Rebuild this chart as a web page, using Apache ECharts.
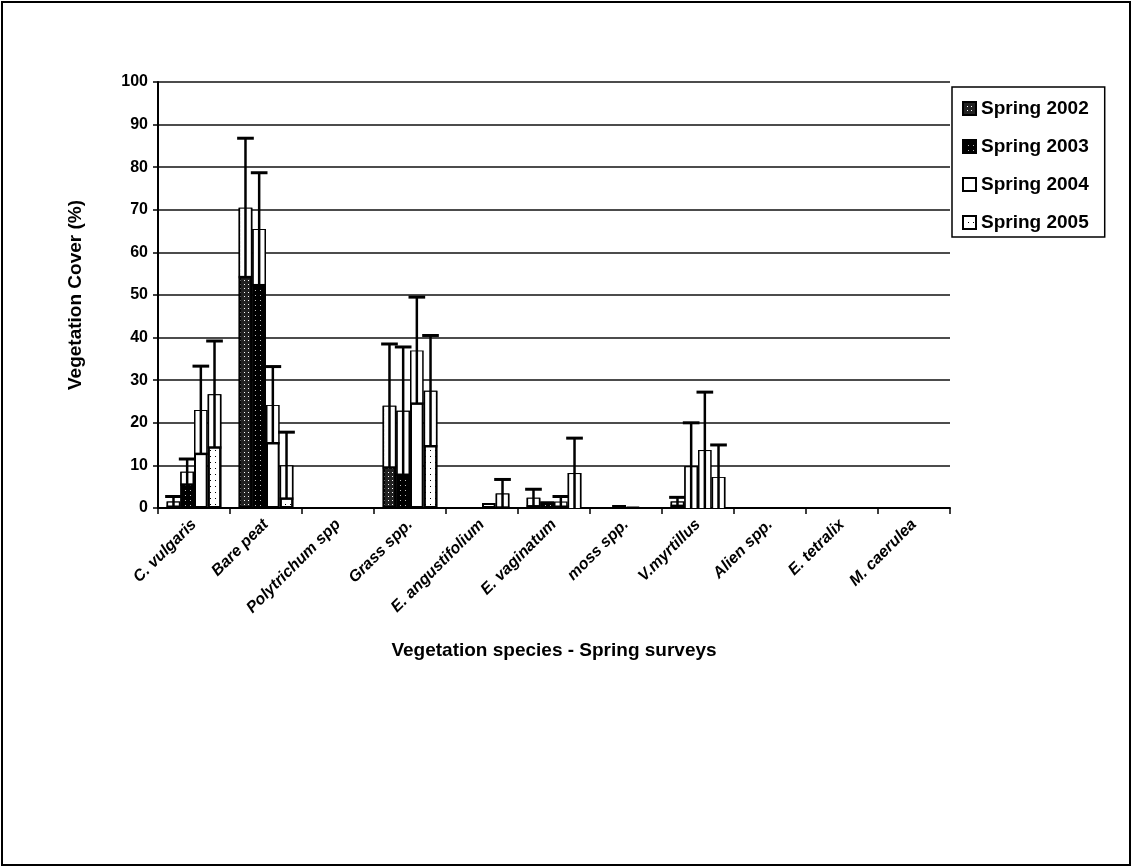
<!DOCTYPE html>
<html>
<head>
<meta charset="utf-8">
<script src="https://cdn.jsdelivr.net/npm/echarts@6/dist/echarts.min.js"></script>
<style>
html,body{margin:0;padding:0;background:#fff;}
#chart{width:1133px;height:868px;}
</style>
</head>
<body>
<div id="chart"></div>
<script>
// ---- data ----
var categories = ['C. vulgaris','Bare peat','Polytrichum spp','Grass spp.','E. angustifolium','E. vaginatum','moss spp.','V.myrtillus','Alien spp.','E. tetralix','M. caerulea'];
var seriesNames = ['Spring 2002','Spring 2003','Spring 2004','Spring 2005'];
var spring2002 = [1.5, 70.5, 0, 24.0, 0, 2.4, 0, 1.5, 0, 0, 0];
var spring2003 = [8.5, 65.5, 0, 22.8, 0, 1.5, 0.7, 9.8, 0, 0, 0];
var spring2004 = [23.0, 24.2, 0, 37.0, 1.2, 1.5, 0.2, 13.6, 0, 0, 0];
var spring2005 = [26.7, 10.0, 0, 27.5, 3.4, 8.2, 0, 7.3, 0, 0, 0];
var sd2002 = [1.2, 16.3, 0, 14.5, 0, 2.0, 0, 1.0, 0, 0, 0];
var sd2003 = [3.0, 13.2, 0, 15.0, 0, 0, 0, 10.2, 0, 0, 0];
var sd2004 = [10.3, 9.0, 0, 12.5, 0, 1.2, 0, 13.6, 0, 0, 0];
var sd2005 = [12.5, 7.8, 0, 13.0, 3.3, 8.2, 0, 7.5, 0, 0, 0];
var yTicks = {min: 0, max: 100, interval: 10};

var values = [spring2002, spring2003, spring2004, spring2005];
var sds = [sd2002, sd2003, sd2004, sd2005];

var FONT = "'Liberation Sans', Arial, sans-serif";
var CAT_GAP = 0.24;

var styles = [
  {color: '#222', decal: {symbol: 'rect', symbolSize: 1, dashArrayX: [1, 3], dashArrayY: [1, 3], color: '#fff'}},
  {color: '#000', decal: {symbol: 'rect', symbolSize: 1, dashArrayX: [1, 4], dashArrayY: [1, 4], color: '#bbb'}},
  {color: '#fff', decal: null},
  {color: '#fff', decal: {symbol: 'rect', symbolSize: 1, dashArrayX: [1, 4], dashArrayY: [1, 5], color: '#000'}}
];

var series = [];
seriesNames.forEach(function (name, i) {
  var itemStyle = {color: styles[i].color, borderColor: '#000', borderWidth: 2};
  if (styles[i].decal) itemStyle.decal = styles[i].decal;
  series.push({
    name: name,
    type: 'bar',
    data: values[i],
    barGap: '0%',
    barCategoryGap: (CAT_GAP * 100) + '%',
    itemStyle: itemStyle,
    z: 2
  });
});

seriesNames.forEach(function (name, i) {
  var data = values[i].map(function (v, k) { return [k, v, sds[i][k]]; });
  series.push({
    type: 'custom',
    name: 'err' + i,
    z: 5,
    data: data,
    encode: {x: 0, y: 1},
    renderItem: function (params, api) {
      var k = api.value(0), v = api.value(1), sd = api.value(2);
      if (!sd) return null;
      var band = api.size([1, 0])[0];
      var cluster = band * (1 - CAT_GAP);
      var bw = cluster / 4;
      var c = api.coord([k, 0]);
      var cx = c[0] - cluster / 2 + bw * (i + 0.5);
      var top = api.coord([k, v])[1];
      var up = api.coord([k, v + sd])[1];
      var lowV = Math.max(0, v - sd);
      var low = api.coord([k, lowV])[1];
      var capW = bw + 3;
      var children = [];
      children.push({type: 'rect', shape: {x: cx - bw / 2 + 1.5, y: top + 1, width: bw - 3, height: Math.max(0, low - top - 1)}, style: {fill: '#fff'}});
      children.push({type: 'line', shape: {x1: cx, y1: up, x2: cx, y2: low}, style: {stroke: '#000', lineWidth: 2.5}});
      children.push({type: 'line', shape: {x1: cx - capW / 2, y1: up, x2: cx + capW / 2, y2: up}, style: {stroke: '#000', lineWidth: 3}});
      if (lowV > 0) {
        children.push({type: 'line', shape: {x1: cx - bw / 2, y1: low, x2: cx + bw / 2, y2: low}, style: {stroke: '#000', lineWidth: 2.5}});
      }
      return {type: 'group', children: children};
    }
  });
});

var chart = echarts.init(document.getElementById('chart'), null, {renderer: 'canvas'});
chart.setOption({
  animation: false,
  backgroundColor: '#fff',
  textStyle: {fontFamily: FONT, color: '#000'},
  graphic: [{
    type: 'rect', z: 100,
    shape: {x: 2, y: 2, width: 1128, height: 863},
    style: {fill: 'none', stroke: '#000', lineWidth: 2}
  }],
  grid: {left: 158, right: 183, top: 82, bottom: 360, containLabel: false},
  legend: {
    data: seriesNames,
    orient: 'vertical',
    left: 952, top: 87,
    padding: [12, 16, 5, 10],
    itemWidth: 13, itemHeight: 13,
    itemGap: 19,
    borderColor: '#000', borderWidth: 1.5,
    backgroundColor: '#fff',
    textStyle: {fontFamily: FONT, fontWeight: 'bold', fontSize: 19, color: '#000'},
    icon: 'rect'
  },
  xAxis: {
    type: 'category',
    data: categories,
    name: 'Vegetation species - Spring surveys',
    nameLocation: 'middle',
    nameGap: 133,
    nameTextStyle: {fontFamily: FONT, fontWeight: 'bold', fontSize: 19, color: '#000'},
    axisLine: {lineStyle: {color: '#000', width: 2}},
    axisTick: {show: true, length: 6, lineStyle: {color: '#000', width: 1.5}},
    axisLabel: {interval: 0, rotate: 45, margin: 14, fontFamily: FONT, fontStyle: 'italic', fontWeight: 'bold', fontSize: 16, color: '#000'}
  },
  yAxis: {
    type: 'value',
    min: yTicks.min, max: yTicks.max, interval: yTicks.interval,
    name: 'Vegetation Cover (%)',
    nameLocation: 'middle',
    nameGap: 73,
    nameTextStyle: {fontFamily: FONT, fontWeight: 'bold', fontSize: 19, color: '#000'},
    axisLine: {show: true, lineStyle: {color: '#000', width: 2}},
    axisTick: {show: true, length: 5, lineStyle: {color: '#000', width: 1.5}},
    axisLabel: {margin: 10, fontFamily: FONT, fontWeight: 'bold', fontSize: 16, color: '#000'},
    splitLine: {show: true, lineStyle: {color: '#111', width: 1.5}}
  },
  series: series
});
</script>
</body>
</html>
